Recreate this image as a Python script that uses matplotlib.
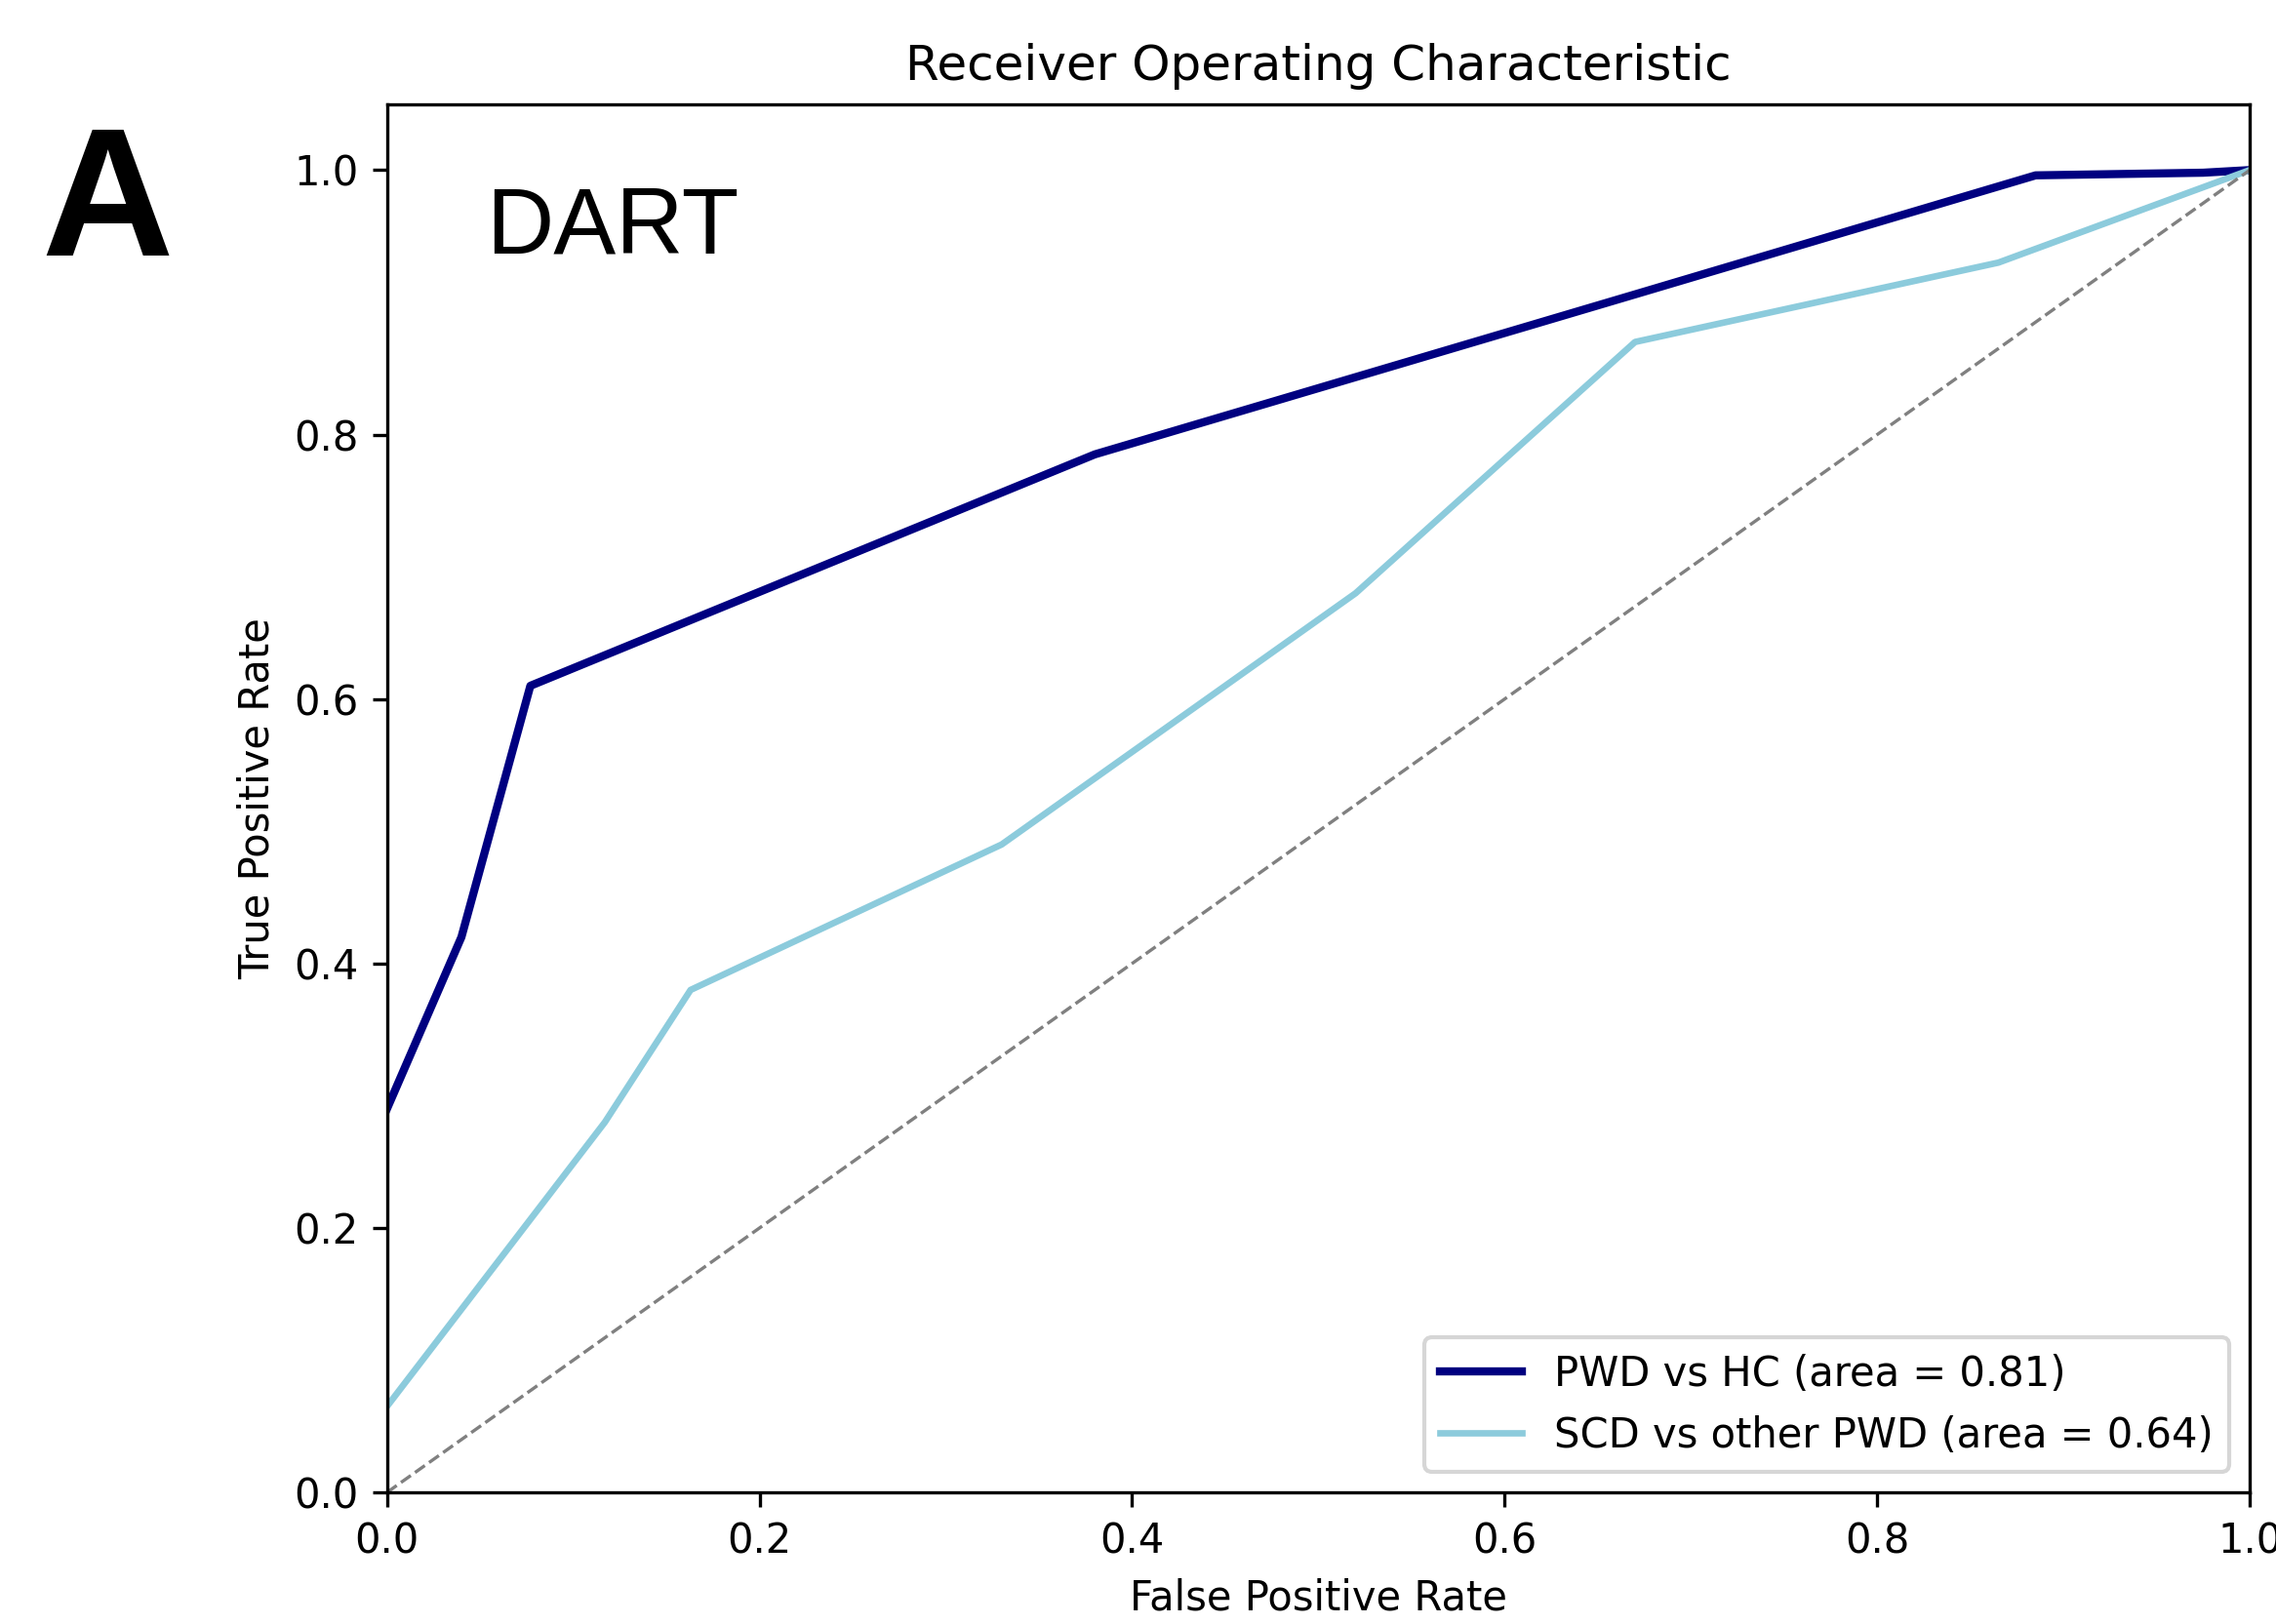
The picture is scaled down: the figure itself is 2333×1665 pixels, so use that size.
import matplotlib
matplotlib.use('Agg')
import matplotlib.pyplot as plt

# ROC points
fpr_pwd = [0.0, 0.04, 0.077, 0.38, 0.67, 0.885, 0.975, 1.0]
tpr_pwd = [0.29, 0.42, 0.61, 0.785, 0.906, 0.996, 0.998, 1.0]
fpr_scd = [0.0, 0.117, 0.163, 0.33, 0.52, 0.67, 0.865, 1.0]
tpr_scd = [0.065, 0.28, 0.38, 0.49, 0.68, 0.87, 0.93, 1.0]
auc_pwd = 0.81
auc_scd = 0.64
ticks = [0.0, 0.2, 0.4, 0.6, 0.8, 1.0]

fig = plt.figure(figsize=(2333 / 300, 1665 / 300), dpi=300)
ax = fig.add_axes([0.170, 0.081, 0.8185, 0.855])

ax.plot(fpr_pwd, tpr_pwd, color='navy', lw=2,
        label='PWD vs HC (area = %0.2f)' % auc_pwd)
ax.plot(fpr_scd, tpr_scd, color='#8ccbdc', lw=1.6,
        label='SCD vs other PWD (area = %0.2f)' % auc_scd)
ax.plot([0, 1], [0, 1], color='gray', lw=0.8, linestyle='--')

ax.set_xlim(0.0, 1.0)
ax.set_ylim(0.0, 1.05)
ax.set_xticks(ticks)
ax.set_yticks(ticks)
ax.set_xlabel('False Positive Rate')
ax.set_ylabel('True Positive Rate')
ax.set_title('Receiver Operating Characteristic')
ax.legend(loc='lower right')

ax.text(0.053, 0.91, 'DART', transform=ax.transAxes, fontsize=23,
        family='Liberation Sans', va='center', ha='left')
fig.text(0.018, 0.872, 'A', fontsize=45, fontweight='bold',
         family='Liberation Sans', va='center', ha='left')

plt.savefig('out.png', dpi=300)
plt.close()
